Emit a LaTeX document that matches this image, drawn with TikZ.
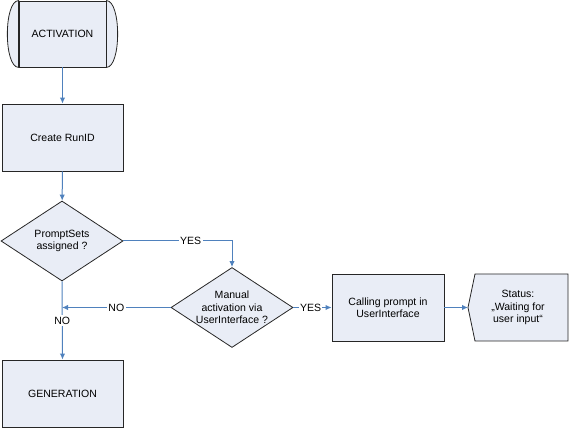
\documentclass[tikz,border=0pt]{standalone}
\usepackage{fontspec}
\setmainfont{Liberation Sans}
\usetikzlibrary{shapes.geometric,arrows.meta}
\definecolor{boxfill}{RGB}{233,237,246}
\definecolor{linkblue}{RGB}{79,129,189}
\begin{document}
\begin{tikzpicture}
[x=0.75pt,y=-0.75pt,
  font=\fontsize{7.9}{9.3}\selectfont,
  outlinedecorate/.style={draw=black!85,line width=0.6pt,fill=boxfill},%
  boxdecorate/.style={shape=rectangle,outlinedecorate,align=center,
    minimum width=90.75pt,minimum height=50.25pt},%
  termdecorate/.style={boxdecorate,minimum width=65.25pt,minimum height=49.5pt},%
  calldecorate/.style={boxdecorate,minimum width=84pt},%
  askdecorate/.style={shape=diamond,outlinedecorate,align=center,inner sep=-1pt,
    aspect=1.525,minimum width=91.5pt,minimum height=60pt},%
  textdecorate/.style={align=center,inner sep=0pt},%
  linedecorate/.style={draw=linkblue,line width=0.75pt},%
  arrowdecorate/.style={linedecorate,-{Latex[length=4.5pt,width=4pt]}},%
  labeldecorate/.style={fill=white,inner sep=1pt}]
\useasboundingbox (0,0) rectangle (569,428);
%% status box, drawn before its text
\coordinate (stattip) at (468,307.5);
\path[outlinedecorate] (stattip) -- (475,274) -- (568,274) -- (568,341)
  -- (475,341) -- cycle;
%% nodes or vertices
\foreach \nodename/\x/\y/\nodestyle/\nodetext in {
  act/62.5/34/termdecorate/{ACTIVATION},
  run/62.5/137.5/boxdecorate/{Create RunID},
  q1/62/241/askdecorate/{PromptSets\\assigned ?},
  q2/232/307.5/askdecorate/{Manual\\activation via\\UserInterface ?},
  gen/62.5/393.5/boxdecorate/{GENERATION},
  call/388/307.5/calldecorate/{Calling prompt in\\UserInterface},
  stat/518/307.5/textdecorate/{Status:\\„Waiting for\\user input“}} {
  \node[\nodestyle] (\nodename) at (\x,\y) {\nodetext};
}
%% rounded ends of the start box
\path[outlinedecorate] (act.north west) .. controls +(-15,0) and +(-15,0)
  .. (act.south west) -- cycle;
\path[outlinedecorate] (act.north east) .. controls +(15,0) and +(15,0)
  .. (act.south east) -- cycle;
%% edges or lines
\path
\foreach \startnode/\endnode in {act/run, run/q1, call/stattip} {
  (\startnode) edge[arrowdecorate] (\endnode)
};
\coordinate (join) at (q1 |- q2.west);
\draw[arrowdecorate] (q1.east) -| node[labeldecorate,pos=0.31] {YES} (q2.north);
\draw[arrowdecorate] (q2.west) -- node[labeldecorate] {NO} (join);
\draw[arrowdecorate] (q1.south) -- node[labeldecorate] {NO} (gen.north);
\draw[arrowdecorate] (q2.east) -- node[labeldecorate,pos=0.45] {YES} (call.west);
\end{tikzpicture}
\end{document}
